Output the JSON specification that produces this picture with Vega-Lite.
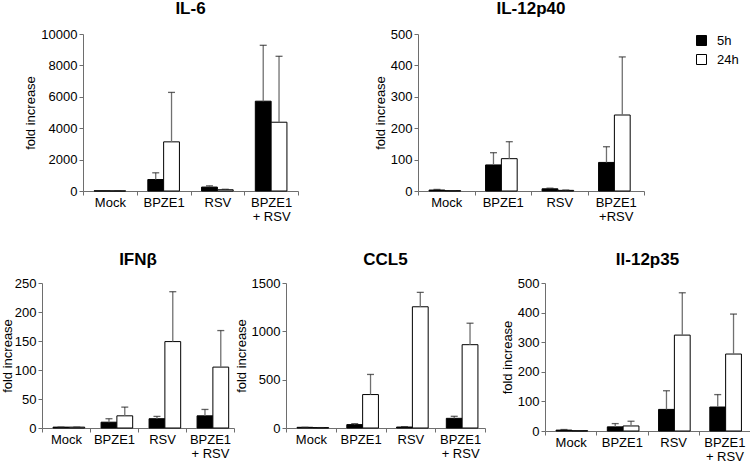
{
  "$schema": "https://vega.github.io/schema/vega-lite/v6.json",
  "padding": {"left": 0, "top": 0, "right": 0, "bottom": 0},
  "background": "white",
  "config": {
    "font": "Liberation Sans",
    "view": {"stroke": null},
    "title": {"fontSize": 17, "fontWeight": "bold", "font": "Liberation Sans", "frame": "group", "anchor": "middle", "color": "black"},
    "axis": {"labelFont": "Liberation Sans", "titleFont": "Liberation Sans", "labelFontSize": 13, "titleFontSize": 13, "titleFontWeight": "normal", "labelColor": "black", "titleColor": "black", "domainColor": "#6e6e6e", "tickColor": "#6e6e6e", "grid": false, "tickSize": 4},
    "axisY": {"labelPadding": 2, "titlePadding": 3},
    "axisX": {"labelAngle": 0, "title": null, "tickBand": "extent", "labelPadding": 1, "labelLineHeight": 14},
    "legend": {"labelFont": "Liberation Sans"}
  },
  "data": {"values": [
    {"c": "IL-6", "group": "Mock", "time": "5h", "value": 10, "err": 10},
    {"c": "IL-6", "group": "Mock", "time": "24h", "value": 5, "err": 5},
    {"c": "IL-6", "group": "BPZE1", "time": "5h", "value": 730, "err": 1160},
    {"c": "IL-6", "group": "BPZE1", "time": "24h", "value": 3130, "err": 6280},
    {"c": "IL-6", "group": "RSV", "time": "5h", "value": 250, "err": 330},
    {"c": "IL-6", "group": "RSV", "time": "24h", "value": 80, "err": 110},
    {"c": "IL-6", "group": "BPZE1 + RSV", "time": "5h", "value": 5720, "err": 9280},
    {"c": "IL-6", "group": "BPZE1 + RSV", "time": "24h", "value": 4380, "err": 8580},
    {"c": "IL-12p40", "group": "Mock", "time": "5h", "value": 3, "err": 5},
    {"c": "IL-12p40", "group": "Mock", "time": "24h", "value": 1, "err": 1},
    {"c": "IL-12p40", "group": "BPZE1", "time": "5h", "value": 83, "err": 122},
    {"c": "IL-12p40", "group": "BPZE1", "time": "24h", "value": 103, "err": 157},
    {"c": "IL-12p40", "group": "RSV", "time": "5h", "value": 7, "err": 9},
    {"c": "IL-12p40", "group": "RSV", "time": "24h", "value": 2, "err": 3},
    {"c": "IL-12p40", "group": "BPZE1 + RSV", "time": "5h", "value": 91, "err": 141},
    {"c": "IL-12p40", "group": "BPZE1 + RSV", "time": "24h", "value": 242, "err": 427},
    {"c": "IFNb", "group": "Mock", "time": "5h", "value": 1.5, "err": 1.5},
    {"c": "IFNb", "group": "Mock", "time": "24h", "value": 1.5, "err": 1.5},
    {"c": "IFNb", "group": "BPZE1", "time": "5h", "value": 10, "err": 16},
    {"c": "IFNb", "group": "BPZE1", "time": "24h", "value": 21, "err": 36},
    {"c": "IFNb", "group": "RSV", "time": "5h", "value": 16, "err": 20},
    {"c": "IFNb", "group": "RSV", "time": "24h", "value": 149, "err": 235},
    {"c": "IFNb", "group": "BPZE1 + RSV", "time": "5h", "value": 21, "err": 32},
    {"c": "IFNb", "group": "BPZE1 + RSV", "time": "24h", "value": 105, "err": 168},
    {"c": "CCL5", "group": "Mock", "time": "5h", "value": 7, "err": 7},
    {"c": "CCL5", "group": "Mock", "time": "24h", "value": 4, "err": 4},
    {"c": "CCL5", "group": "BPZE1", "time": "5h", "value": 35, "err": 45},
    {"c": "CCL5", "group": "BPZE1", "time": "24h", "value": 346, "err": 554},
    {"c": "CCL5", "group": "RSV", "time": "5h", "value": 10, "err": 14},
    {"c": "CCL5", "group": "RSV", "time": "24h", "value": 1254, "err": 1403},
    {"c": "CCL5", "group": "BPZE1 + RSV", "time": "5h", "value": 100, "err": 121},
    {"c": "CCL5", "group": "BPZE1 + RSV", "time": "24h", "value": 862, "err": 1084},
    {"c": "Il-12p35", "group": "Mock", "time": "5h", "value": 3, "err": 5},
    {"c": "Il-12p35", "group": "Mock", "time": "24h", "value": 1, "err": 1},
    {"c": "Il-12p35", "group": "BPZE1", "time": "5h", "value": 14, "err": 25},
    {"c": "Il-12p35", "group": "BPZE1", "time": "24h", "value": 17, "err": 33},
    {"c": "Il-12p35", "group": "RSV", "time": "5h", "value": 73, "err": 136},
    {"c": "Il-12p35", "group": "RSV", "time": "24h", "value": 324, "err": 467},
    {"c": "Il-12p35", "group": "BPZE1 + RSV", "time": "5h", "value": 81, "err": 123},
    {"c": "Il-12p35", "group": "BPZE1 + RSV", "time": "24h", "value": 260, "err": 395}
  ]},
  "spacing": 28,
  "vconcat": [
    {
      "spacing": 0,
      "hconcat": [
        {"width": 24, "height": 10, "view": {"fill": "white"}, "data": {"values": []}, "mark": "point", "encoding": {}},
        {
          "spacing": 75,
          "hconcat": [
            {
              "title": {"text": "IL-6", "offset": 10},
              "width": 215, "height": 157,
              "transform": [{"filter": "datum.c == 'IL-6'"}],
              "encoding": {
                "x": {"field": "group", "type": "nominal", "sort": ["Mock", "BPZE1", "RSV", "BPZE1 + RSV"], "scale": {"paddingInner": 0, "paddingOuter": 0}, "axis": {"labelExpr": "datum.label == 'BPZE1 + RSV' ? ['BPZE1', '+ RSV'] : datum.label"}},
                "xOffset": {"field": "time", "sort": ["5h", "24h"], "scale": {"paddingOuter": 0.7, "paddingInner": 0}},
                "y": {"field": "value", "type": "quantitative", "scale": {"domain": [0, 10000]}, "axis": {"title": "fold increase", "values": [0, 2000, 4000, 6000, 8000, 10000], "format": "d"}}
              },
              "layer": [
                {"mark": {"type": "bar", "stroke": "black", "strokeWidth": 1}, "encoding": {"fill": {"field": "time", "type": "nominal", "scale": {"domain": ["5h", "24h"], "range": ["black", "white"]}, "legend": {"title": null, "orient": "none", "legendX": 695, "legendY": 0, "symbolType": "square", "symbolSize": 100, "symbolStrokeColor": "black", "symbolStrokeWidth": 1, "labelFontSize": 13, "rowPadding": 4, "labelOffset": 9}}}},
                {"mark": {"type": "rule", "color": "#707070", "strokeWidth": 1.3}, "encoding": {"y2": {"field": "err"}}},
                {"mark": {"type": "tick", "color": "#222222", "size": 7, "thickness": 1.3}, "encoding": {"y": {"field": "err", "type": "quantitative", "axis": {"title": "fold increase", "values": [0, 2000, 4000, 6000, 8000, 10000], "format": "d"}}}}
              ]
            },
            {
              "title": {"text": "IL-12p40", "offset": 10},
              "width": 226, "height": 157,
              "transform": [{"filter": "datum.c == 'IL-12p40'"}],
              "encoding": {
                "x": {"field": "group", "type": "nominal", "sort": ["Mock", "BPZE1", "RSV", "BPZE1 + RSV"], "scale": {"paddingInner": 0, "paddingOuter": 0}, "axis": {"labelExpr": "datum.label == 'BPZE1 + RSV' ? ['BPZE1', '+RSV'] : datum.label"}},
                "xOffset": {"field": "time", "sort": ["5h", "24h"], "scale": {"paddingOuter": 0.7, "paddingInner": 0}},
                "y": {"field": "value", "type": "quantitative", "scale": {"domain": [0, 500]}, "axis": {"title": "fold increase", "values": [0, 100, 200, 300, 400, 500], "format": "d"}}
              },
              "layer": [
                {"mark": {"type": "bar", "stroke": "black", "strokeWidth": 1}, "encoding": {"fill": {"field": "time", "type": "nominal", "scale": {"domain": ["5h", "24h"], "range": ["black", "white"]}, "legend": {"title": null, "orient": "none", "legendX": 695, "legendY": 0, "symbolType": "square", "symbolSize": 100, "symbolStrokeColor": "black", "symbolStrokeWidth": 1, "labelFontSize": 13, "rowPadding": 4, "labelOffset": 9}}}},
                {"mark": {"type": "rule", "color": "#707070", "strokeWidth": 1.3}, "encoding": {"y2": {"field": "err"}}},
                {"mark": {"type": "tick", "color": "#222222", "size": 7, "thickness": 1.3}, "encoding": {"y": {"field": "err", "type": "quantitative", "axis": {"title": "fold increase", "values": [0, 100, 200, 300, 400, 500], "format": "d"}}}}
              ]
            }
          ]
        }
      ]
    },
    {
      "spacing": 0,
      "hconcat": [
        {"width": 1, "height": 10, "view": {"fill": "white"}, "data": {"values": []}, "mark": "point", "encoding": {}},
        {
          "spacing": 0,
          "hconcat": [
            {
              "title": {"text": "IFNβ", "offset": 8},
              "width": 192, "height": 145,
              "transform": [{"filter": "datum.c == 'IFNb'"}],
              "encoding": {
                "x": {"field": "group", "type": "nominal", "sort": ["Mock", "BPZE1", "RSV", "BPZE1 + RSV"], "scale": {"paddingInner": 0, "paddingOuter": 0}, "axis": {"labelExpr": "datum.label == 'BPZE1 + RSV' ? ['BPZE1', '+ RSV'] : datum.label"}},
                "xOffset": {"field": "time", "sort": ["5h", "24h"], "scale": {"paddingOuter": 0.8, "paddingInner": 0}},
                "y": {"field": "value", "type": "quantitative", "scale": {"domain": [0, 250]}, "axis": {"title": "fold increase", "titlePadding": 0, "values": [0, 50, 100, 150, 200, 250], "format": "d"}}
              },
              "layer": [
                {"mark": {"type": "bar", "stroke": "black", "strokeWidth": 1}, "encoding": {"fill": {"field": "time", "type": "nominal", "scale": {"domain": ["5h", "24h"], "range": ["black", "white"]}, "legend": {"title": null, "orient": "none", "legendX": 695, "legendY": 0, "symbolType": "square", "symbolSize": 100, "symbolStrokeColor": "black", "symbolStrokeWidth": 1, "labelFontSize": 13, "rowPadding": 4, "labelOffset": 9}}}},
                {"mark": {"type": "rule", "color": "#707070", "strokeWidth": 1.3}, "encoding": {"y2": {"field": "err"}}},
                {"mark": {"type": "tick", "color": "#222222", "size": 7, "thickness": 1.3}, "encoding": {"y": {"field": "err", "type": "quantitative", "axis": {"title": "fold increase", "titlePadding": 0, "values": [0, 50, 100, 150, 200, 250], "format": "d"}}}}
              ]
            },
            {
              "spacing": 15,
              "hconcat": [
                {
                  "title": {"text": "CCL5", "offset": 8},
                  "width": 199, "height": 145,
                  "transform": [{"filter": "datum.c == 'CCL5'"}],
                  "encoding": {
                    "x": {"field": "group", "type": "nominal", "sort": ["Mock", "BPZE1", "RSV", "BPZE1 + RSV"], "scale": {"paddingInner": 0, "paddingOuter": 0}, "axis": {"labelExpr": "datum.label == 'BPZE1 + RSV' ? ['BPZE1', '+ RSV'] : datum.label"}},
                    "xOffset": {"field": "time", "sort": ["5h", "24h"], "scale": {"paddingOuter": 0.8, "paddingInner": 0}},
                    "y": {"field": "value", "type": "quantitative", "scale": {"domain": [0, 1500]}, "axis": {"title": "fold increase", "values": [0, 500, 1000, 1500], "format": "d"}}
                  },
                  "layer": [
                    {"mark": {"type": "bar", "stroke": "black", "strokeWidth": 1}, "encoding": {"fill": {"field": "time", "type": "nominal", "scale": {"domain": ["5h", "24h"], "range": ["black", "white"]}, "legend": {"title": null, "orient": "none", "legendX": 695, "legendY": 0, "symbolType": "square", "symbolSize": 100, "symbolStrokeColor": "black", "symbolStrokeWidth": 1, "labelFontSize": 13, "rowPadding": 4, "labelOffset": 9}}}},
                    {"mark": {"type": "rule", "color": "#707070", "strokeWidth": 1.3}, "encoding": {"y2": {"field": "err"}}},
                    {"mark": {"type": "tick", "color": "#222222", "size": 7, "thickness": 1.3}, "encoding": {"y": {"field": "err", "type": "quantitative", "axis": {"title": "fold increase", "values": [0, 500, 1000, 1500], "format": "d"}}}}
                  ]
                },
                {
                  "title": {"text": "Il-12p35", "offset": 8},
                  "width": 205, "height": 148,
                  "transform": [{"filter": "datum.c == 'Il-12p35'"}],
                  "encoding": {
                    "x": {"field": "group", "type": "nominal", "sort": ["Mock", "BPZE1", "RSV", "BPZE1 + RSV"], "scale": {"paddingInner": 0, "paddingOuter": 0}, "axis": {"labelExpr": "datum.label == 'BPZE1 + RSV' ? ['BPZE1', '+ RSV'] : datum.label"}},
                    "xOffset": {"field": "time", "sort": ["5h", "24h"], "scale": {"paddingOuter": 0.7, "paddingInner": 0}},
                    "y": {"field": "value", "type": "quantitative", "scale": {"domain": [0, 500]}, "axis": {"title": "fold increase", "values": [0, 100, 200, 300, 400, 500], "format": "d"}}
                  },
                  "layer": [
                    {"mark": {"type": "bar", "stroke": "black", "strokeWidth": 1}, "encoding": {"fill": {"field": "time", "type": "nominal", "scale": {"domain": ["5h", "24h"], "range": ["black", "white"]}, "legend": {"title": null, "orient": "none", "legendX": 695, "legendY": 0, "symbolType": "square", "symbolSize": 100, "symbolStrokeColor": "black", "symbolStrokeWidth": 1, "labelFontSize": 13, "rowPadding": 4, "labelOffset": 9}}}},
                    {"mark": {"type": "rule", "color": "#707070", "strokeWidth": 1.3}, "encoding": {"y2": {"field": "err"}}},
                    {"mark": {"type": "tick", "color": "#222222", "size": 7, "thickness": 1.3}, "encoding": {"y": {"field": "err", "type": "quantitative", "axis": {"title": "fold increase", "values": [0, 100, 200, 300, 400, 500], "format": "d"}}}}
                  ]
                }
              ]
            }
          ]
        }
      ]
    }
  ]
}
